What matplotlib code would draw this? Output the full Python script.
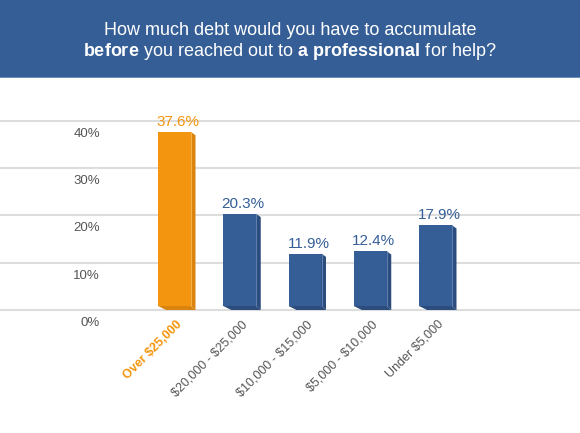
import matplotlib
matplotlib.use("Agg")
import matplotlib.pyplot as plt
from matplotlib.patches import Polygon, Rectangle
from matplotlib.transforms import ScaledTranslation

plt.rcParams['font.family'] = ['Liberation Sans', 'DejaVu Sans']
plt.rcParams['text.parse_math'] = False
plt.rcParams['mathtext.fontset'] = 'custom'
plt.rcParams['mathtext.rm'] = 'Liberation Sans'
plt.rcParams['mathtext.bf'] = 'Liberation Sans:bold'

categories = ["Over $25,000", "$20,000 - $25,000", "$10,000 - $15,000", "$5,000 - $10,000", "Under $5,000"]
values = [37.6, 20.3, 11.9, 12.4, 17.9]
yticks = [0, 10, 20, 30, 40]
ytick_labels = ["0%", "10%", "20%", "30%", "40%"]
title_line1 = "How much debt would you have to accumulate"
title_line2 = r"$\mathbf{before}$ you reached out to $\mathbf{a\ professional}$ for help?"

ORANGE = "#F3950F"
ORANGE_SIDE = "#D9840E"
BLUE = "#355E96"
BLUE_SIDE = "#2B4C7C"
BLUE_HI = "#5B7FB0"
ORANGE_HI = "#F7B04A"
GRAY = "#555555"

W, H = 580, 433
fig = plt.figure(figsize=(W / 100, H / 100), dpi=100)
fig.patch.set_facecolor("white")

# header
fig.patches.append(Rectangle((0, 1 - 77 / H), 1, 77 / H, transform=fig.transFigure,
                             facecolor=BLUE, edgecolor="none", zorder=0))
fig.patches.append(Rectangle((0, 1 - 78 / H), 1, 1.5 / H, transform=fig.transFigure,
                             facecolor="#6E8EBB", edgecolor="none", zorder=0))

# axes: x spans full width, y from baseline (310px) to 40% gridline (120.7px)
ax = fig.add_axes([0, 1 - 310 / H, 1, (310 - 120.7) / H])
step = 65.25
x0 = 174.5
ax.set_xlim(-x0 / step, (W - x0) / step)
ax.set_ylim(0, 40)
for s in ax.spines.values():
    s.set_visible(False)
ax.patch.set_alpha(0)

ax.set_yticks(yticks)
ax.set_yticklabels(ytick_labels)
ax.yaxis.grid(True, color="#DDDDDD", linewidth=1.5, zorder=0)
ax.set_axisbelow(True)
for gl in ax.yaxis.get_gridlines():
    gl.set_clip_on(False)
ax.tick_params(axis="y", length=0, pad=-72, labelsize=9.5, labelcolor=GRAY)
for lab in ax.get_yticklabels():
    lab.set_horizontalalignment("right")
    lab.set_transform(lab.get_transform() + ScaledTranslation(0, -0.115, fig.dpi_scale_trans))

xs = list(range(len(categories)))
bw = 33 / step
dx = 4.5 / step
dy = 4 / (189.3 / 40)
fronts = [ORANGE] + [BLUE] * 4
sides = [ORANGE_SIDE] + [BLUE_SIDE] * 4
his = [ORANGE_HI] + [BLUE_HI] * 4

bars = ax.bar(xs, [v - dy for v in values], bottom=dy, width=bw, color=fronts, zorder=3, linewidth=0)
for b, v, sc, hc in zip(bars, values, sides, his):
    xl = b.get_x()
    xr = xl + b.get_width()
    ax.add_patch(Polygon([(xr, v), (xr + dx, v - dy * 0.8), (xr + dx, 0), (xr, dy)],
                         closed=True, facecolor=sc, edgecolor="none", zorder=3))
    ax.add_patch(Polygon([(xl, dy), (xr, dy), (xr + dx, 0), (xl + dx * 1.8, 0)],
                         closed=True, facecolor=sc, edgecolor="none", zorder=3))
    ax.plot([xr, xr], [dy, v], color=hc, linewidth=0.8, zorder=4, solid_capstyle="butt")

# value labels
for x, v, c in zip(xs, values, [ORANGE] + [BLUE] * 4):
    ax.annotate(f"{v}%", (x, v), xytext=(3.5, 10), textcoords="offset pixels",
                ha="center", va="center", fontsize=11, color=c, zorder=5)

# x tick labels
ax.set_xticks(xs)
ax.set_xticklabels(categories, rotation=45, rotation_mode="anchor", ha="right", va="top",
                   fontsize=9, color=GRAY)
ax.tick_params(axis="x", length=0, pad=6)
for i, lab in enumerate(ax.get_xticklabels()):
    lab.set_transform(lab.get_transform() + ScaledTranslation(0.015, 0, fig.dpi_scale_trans))
    if i == 0:
        lab.set_color(ORANGE)
        lab.set_fontweight("bold")

# title
fig.text(0.5, 1 - 30.7 / H, title_line1, ha="center", va="center", color="white", fontsize=13)
fig.text(0.5, 1 - 51.7 / H, title_line2, ha="center", va="center", color="white", fontsize=13,
         parse_math=True)

fig.savefig("out.png", dpi=100)
